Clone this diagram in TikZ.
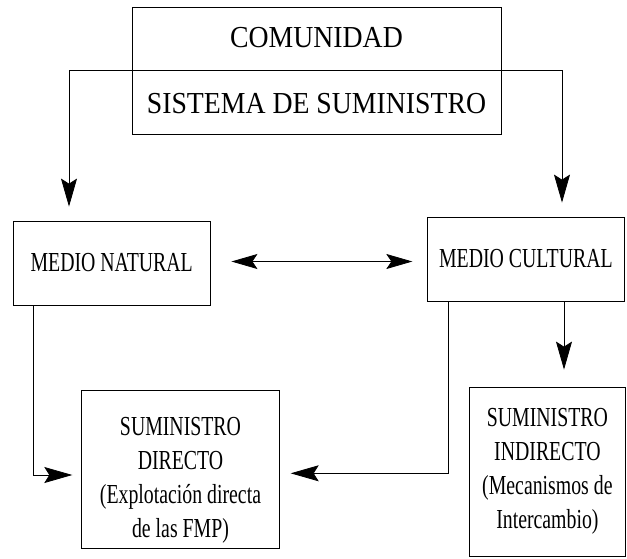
\documentclass[tikz,border=0pt]{standalone}
\usepackage{fontspec}
\setmainfont{Liberation Serif}
\newfontfamily\bigserif[FakeStretch=0.91]{Liberation Serif}
\newfontfamily\smallserif[FakeStretch=0.72]{Liberation Serif}
\usetikzlibrary{arrows.meta}
\begin{document}
\begin{tikzpicture}[x=1pt,y=-1pt,
  boxst/.style={draw, line width=0.8pt, inner sep=0pt},
  lbl/.style={font=\smallserif\fontsize{27.5}{34}\selectfont, align=center},
  topfont/.style={font=\bigserif\fontsize{30.5}{66.7}\selectfont, align=center},
  conn/.style={line width=0.8pt},
  arr/.style={line width=0.8pt, -{Stealth[length=28pt,width=16pt,inset=5pt]}},
  dbl/.style={line width=0.8pt, {Stealth[length=26pt,width=15pt,inset=5pt]}-{Stealth[length=26pt,width=15pt,inset=5pt]}},
]
\useasboundingbox (0,0) rectangle (627,558);
% boxes
\node[boxst, topfont, minimum width=369pt, minimum height=127pt] (top) at (316.5,70.5) {COMUNIDAD\\SISTEMA DE SUMINISTRO};
\node[boxst, lbl, minimum width=196.7pt, minimum height=84pt] (nat) at (111.7,263) {MEDIO NATURAL};
\node[boxst, lbl, minimum width=196.3pt, minimum height=84pt] (cul) at (525.9,259) {MEDIO CULTURAL};
\node[boxst, minimum width=197.6pt, minimum height=158pt] (dir) at (180.5,469) {};
\node[lbl] (dirtxt) at (180.5,480) {SUMINISTRO\\DIRECTO\\(Explotación directa\\de las FMP)};
\node[boxst, lbl, minimum width=156.7pt, minimum height=169pt] (ind) at (547.4,471.5) {SUMINISTRO\\INDIRECTO\\(Mecanismos de\\Intercambio)};
% helper coordinates
\coordinate (jl) at (69,70);
\coordinate (jr) at (562,70);
\coordinate (mid) at (320,261.5);
\coordinate (lx) at (33.3,475);
\coordinate (rx) at (448.3,473.3);
\coordinate (dx) at (564,300);
% connectors
\draw[conn] (jl) -- (jr);
\draw[arr, shorten >=14pt] (jl) -- (jl |- nat.north);
\draw[arr, shorten >=14pt] (jr) -- (jr |- cul.north);
\draw[dbl, shorten <=21pt, shorten >=15pt] (nat.east |- mid) -- (cul.west |- mid);
\draw[arr, shorten >=9pt] (nat.south -| lx) |- (dir.west |- lx);
\draw[arr, shorten >=11pt] (cul.south -| rx) |- (dir.east |- rx);
\draw[arr, shorten >=17pt] (cul.south -| dx) -- (ind.north -| dx);
\end{tikzpicture}
\end{document}
